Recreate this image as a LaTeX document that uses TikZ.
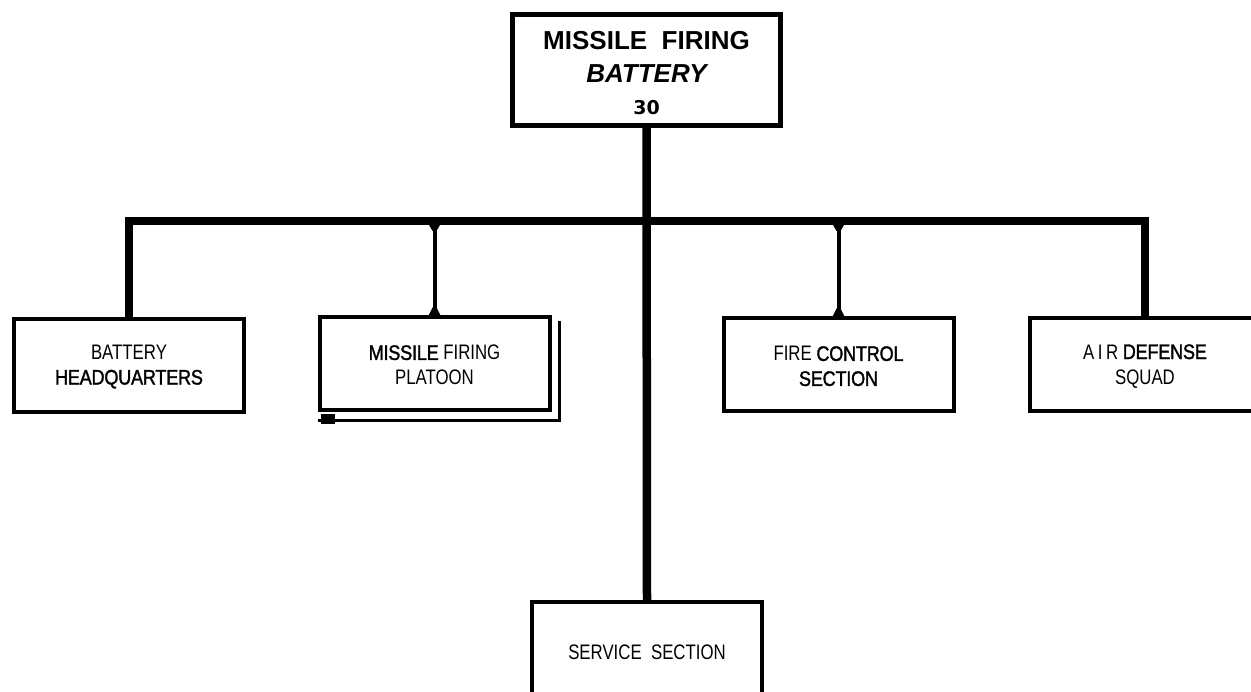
\documentclass[tikz,border=0pt]{standalone}
\usepackage{fontspec}
\setmainfont{Liberation Sans}
\newfontfamily\narrowfont[FakeStretch=0.8]{Liberation Sans}
\newfontfamily\heavynarrow[FakeStretch=0.86,FakeBold=1.5,LetterSpace=-1]{Liberation Sans}
\newfontfamily\numfont{DejaVu Sans}
\usetikzlibrary{calc}
\newcommand\hv[1]{{\heavynarrow #1}}
\newcommand\tstrut{\rule{0pt}{17pt}}
\tikzset{
  unitbox/.style={draw, line width=4pt, inner sep=0pt, minimum width=230pt,
    minimum height=93pt, align=center, font=\narrowfont\fontsize{21}{25}\selectfont},
  topbox/.style={draw, line width=5pt, inner sep=0pt, minimum width=268pt,
    minimum height=111pt, align=center, font=\fontsize{26}{32.5}\selectfont},
  heavy/.style={line width=8.5pt},
  thinlink/.style={line width=4pt},
  shadowline/.style={line width=3pt},
}
\begin{document}
\begin{tikzpicture}[x=1pt,y=-1pt]
\useasboundingbox (0,0) rectangle (1251,692);
\fill[white] (0,0) rectangle (1251,692);
\clip (0,0) rectangle (1251,692);

\node[topbox] (top) at (646.5,70)
  {\rule{0pt}{25pt}\bfseries MISSILE\ \ FIRING\\
   \bfseries\itshape BATTERY\\
   {\numfont\bfseries\fontsize{19}{32.5}\selectfont 30}};

\node[unitbox] (hq)  at (129,365.5) {\tstrut BATTERY\\ \hv{HEADQUARTERS}};
\node[unitbox] (mfp) at (434.5,364) {\tstrut \hv{MISSILE} FIRING\\ PLATOON};
\node[unitbox] (fc)  at (838.5,365) {\tstrut FIRE \hv{CONTROL}\\ \hv{SECTION}};
\node[unitbox] (ad)  at (1145,365)  {\tstrut A\,I\,R \hv{DEFENSE}\\ SQUAD};
\node[unitbox] (svc) at (647,648.5) {\rule{0pt}{23pt}SERVICE\ \ SECTION};

% double outline of the platoon box
\draw[shadowline] ($(mfp.south west)+(0,8.5)$) -| ($(mfp.north east)+(8,5.5)$);
\fill ($(mfp.south west)+(3,2)$) rectangle ($(mfp.south west)+(17,12)$);

% connectors
\coordinate (bar) at (647,221);
\draw[heavy] (hq.north) |- (bar) -| (ad.north);
\draw[heavy] (top.south) -- (svc.north);
\foreach \n in {mfp,fc}{
  \coordinate (\n-up) at (\n.north |- bar);
  \draw[thinlink] (\n.north) -- (\n-up);
  \fill ($(\n-up)+(-6,3)$) -- ($(\n-up)+(6,3)$) -- ($(\n-up)+(2,10)$) -- ($(\n-up)+(-2,10)$) -- cycle;
  \fill ($(\n.north)+(-6,0)$) -- ($(\n.north)+(6,0)$) -- ($(\n.north)+(2,-8)$) -- ($(\n.north)+(-2,-8)$) -- cycle;
}
\end{tikzpicture}
\end{document}
